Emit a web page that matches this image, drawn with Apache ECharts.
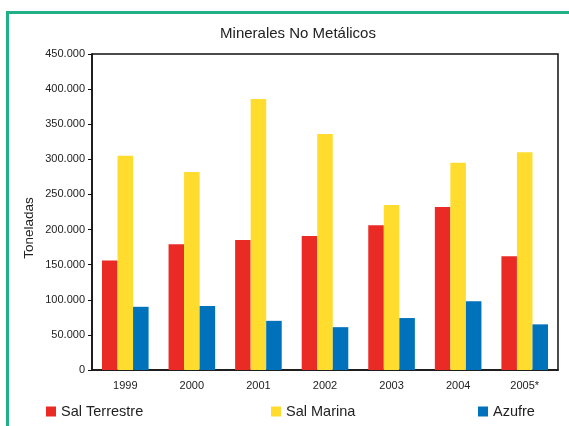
<!DOCTYPE html>
<html>
<head>
<meta charset="utf-8">
<script src="https://cdn.jsdelivr.net/npm/echarts@6/dist/echarts.min.js"></script>
<style>
  html, body { margin: 0; padding: 0; background: #fff; }
  #chart { width: 569px; height: 426px; }
</style>
</head>
<body>
<div id="chart"></div>
<script>
const years = ['1999', '2000', '2001', '2002', '2003', '2004', '2005*']
const salTerrestre = [156000, 179000, 185000, 191000, 206000, 232000, 162000]
const salMarina = [305000, 282000, 386000, 336000, 235000, 295000, 310000]
const azufre = [90000, 91000, 70000, 61000, 74000, 98000, 65000]

const font = "'Liberation Sans Narrow', 'Liberation Sans', sans-serif"

let mychart = echarts.init(document.getElementById('chart'))

function fmt(v) {
  return String(v).replace(/\B(?=(\d{3})+(?!\d))/g, '.')
}

let legendBase = {
  top: 399,
  itemWidth: 10,
  itemHeight: 10,
  itemGap: 5,
  icon: 'rect',
  textStyle: { fontFamily: font, fontSize: 14.5, color: '#222' },
}

let option = {
  animation: false,
  backgroundColor: '#fff',
  color: ['#ea2a25', '#ffdc2e', '#0072bc'],
  title: {
    text: 'Minerales No Metálicos',
    left: 293,
    textAlign: 'center',
    top: 21,
    textStyle: { fontFamily: font, fontSize: 15, fontWeight: 'normal', color: '#222' },
  },
  graphic: [
    {
      type: 'rect',
      shape: { x: 7.5, y: 12.5, width: 700, height: 500 },
      style: { fill: 'none', stroke: '#1fb185', lineWidth: 3 },
      silent: true,
    },
    {
      // y axis title, sits a bit below the plot centre like the original
      type: 'text',
      x: 29,
      y: 228,
      rotation: Math.PI / 2,
      style: {
        text: 'Toneladas',
        fontFamily: font,
        fontSize: 13.5,
        fill: '#222',
        align: 'center',
        verticalAlign: 'middle',
      },
      silent: true,
    },
  ],
  legend: [
    Object.assign({ left: 41, data: ['Sal Terrestre'] }, legendBase),
    Object.assign({ left: 266, data: ['Sal Marina'] }, legendBase),
    Object.assign({ left: 473, data: ['Azufre'] }, legendBase),
  ],
  grid: {
    left: 92,
    right: 11,
    top: 54,
    bottom: 56,
    show: true,
    borderColor: '#111',
    borderWidth: 1.5,
  },
  xAxis: {
    type: 'category',
    data: years,
    axisLine: { lineStyle: { color: '#111', width: 1.5 } },
    axisTick: { length: 4, lineStyle: { color: '#111' } },
    axisLabel: { fontFamily: font, fontSize: 11, color: '#222', margin: 10 },
  },
  yAxis: {
    type: 'value',
    min: 0,
    max: 450000,
    interval: 50000,
    axisLine: { show: true, lineStyle: { color: '#111', width: 1.5 } },
    axisTick: { show: true, length: 4, lineStyle: { color: '#111' } },
    axisLabel: { fontFamily: font, fontSize: 11, color: '#222', margin: 7, formatter: fmt },
    splitLine: { show: false },
  },
  series: [
    { name: 'Sal Terrestre', type: 'bar', data: salTerrestre, barGap: '0%', barCategoryGap: '30%' },
    { name: 'Sal Marina', type: 'bar', data: salMarina, barGap: '0%', barCategoryGap: '30%' },
    { name: 'Azufre', type: 'bar', data: azufre, barGap: '0%', barCategoryGap: '30%' },
  ],
}

mychart.setOption(option)
</script>
</body>
</html>
